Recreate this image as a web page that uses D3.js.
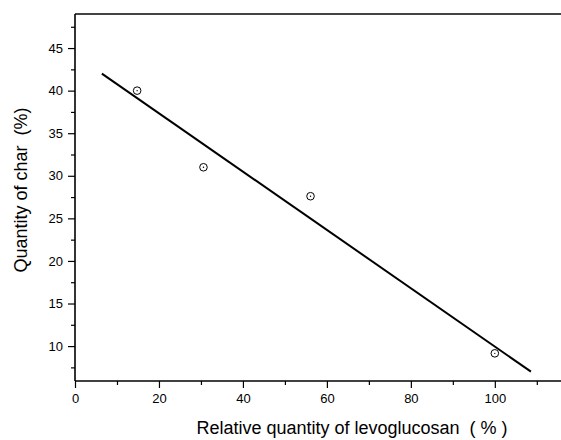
<!DOCTYPE html>
<html>
<head>
<meta charset="utf-8">
<script src="https://cdn.jsdelivr.net/npm/d3@7"></script>
<style>
  body { margin: 0; background: #fff; }
  text { font-family: "Liberation Sans", Arial, sans-serif; fill: #000; }
  .title { white-space: pre; }
</style>
</head>
<body>
<div id="chart"></div>
<script>
// measured points
var levoglucosan = [14.8, 30.6, 56.1, 100];
var charQty = [40.0, 31.0, 27.6, 9.15];

// linear fit line at its two ends
var fitX = [6.4, 108.6];
var fitY = [42.0, 7.0];

var xMajor = [0, 20, 40, 60, 80, 100];
var xMinor = [10, 30, 50, 70, 90, 110];
var yMajor = [10, 15, 20, 25, 30, 35, 40, 45];
var yMinor = [7.5, 12.5, 17.5, 22.5, 27.5, 32.5, 37.5, 42.5, 47.5];

(function() {
  var width = 561,
      height = 440;

  var left = 75, right = 562, top = 14, bottom = 381;

  var svg = d3.select("#chart")
    .append("svg")
    .attr("width", width)
    .attr("height", height);

  var x = d3.scaleLinear().domain([0, 116]).range([left, right]);
  var y = d3.scaleLinear().domain([5.9, 49]).range([bottom, top]);

  // top frame line
  svg.append("line")
    .attr("x1", left).attr("x2", width)
    .attr("y1", top).attr("y2", top)
    .attr("stroke", "#444")
    .attr("stroke-width", 2);

  // x axis
  var xAxis = svg.append("g")
    .attr("transform", "translate(0," + bottom + ")")
    .call(d3.axisBottom(x).tickValues(xMajor).tickSize(7).tickPadding(6));
  svg.append("g")
    .attr("transform", "translate(0," + bottom + ")")
    .call(d3.axisBottom(x).tickValues(xMinor).tickSize(4).tickFormat(""))
    .select(".domain").remove();

  // y axis
  var yAxis = svg.append("g")
    .attr("transform", "translate(" + left + ",0)")
    .call(d3.axisLeft(y).tickValues(yMajor).tickSize(7).tickPadding(5));
  svg.append("g")
    .attr("transform", "translate(" + left + ",0)")
    .call(d3.axisLeft(y).tickValues(yMinor).tickSize(4).tickFormat(""))
    .select(".domain").remove();

  svg.selectAll(".domain")
    .attr("stroke", "#000")
    .attr("stroke-width", 1.6);
  svg.selectAll(".tick line")
    .attr("stroke", "#000")
    .attr("stroke-width", 1.2);
  svg.selectAll(".tick text")
    .style("font-family", "'Liberation Sans', Arial, sans-serif")
    .style("font-size", "13px")
    .attr("fill", "#000");
  xAxis.select(".domain").attr("d", "M" + left + ",0H" + width);
  yAxis.select(".domain").attr("d", "M0," + bottom + "V" + top);

  // fit line
  var fit = fitX.map(function(d, i) { return [d, fitY[i]]; });
  svg.append("path")
    .datum(fit)
    .attr("fill", "none")
    .attr("stroke", "#000")
    .attr("stroke-width", 2)
    .attr("d", d3.line()
      .x(function(d) { return x(d[0]); })
      .y(function(d) { return y(d[1]); }));

  // data points
  var pts = levoglucosan.map(function(d, i) { return [d, charQty[i]]; });
  var marks = svg.selectAll(".pt")
    .data(pts)
    .enter().append("g")
    .attr("class", "pt")
    .attr("transform", function(d) {
      return "translate(" + x(d[0]) + "," + y(d[1]) + ")";
    });
  marks.append("circle")
    .attr("r", 3.8)
    .attr("fill", "#fff")
    .attr("stroke", "#000")
    .attr("stroke-width", 1);
  marks.append("circle")
    .attr("r", 0.7)
    .attr("fill", "#000");

  // axis titles
  svg.append("text")
    .attr("class", "title")
    .attr("x", 352)
    .attr("y", 434)
    .attr("text-anchor", "middle")
    .style("font-size", "18px")
    .text("Relative quantity of levoglucosan  ( % )");

  svg.append("text")
    .attr("class", "title")
    .attr("transform", "translate(27,190) rotate(-90)")
    .attr("text-anchor", "middle")
    .style("font-size", "18px")
    .text("Quantity of char  (%)");
})();
</script>
</body>
</html>
